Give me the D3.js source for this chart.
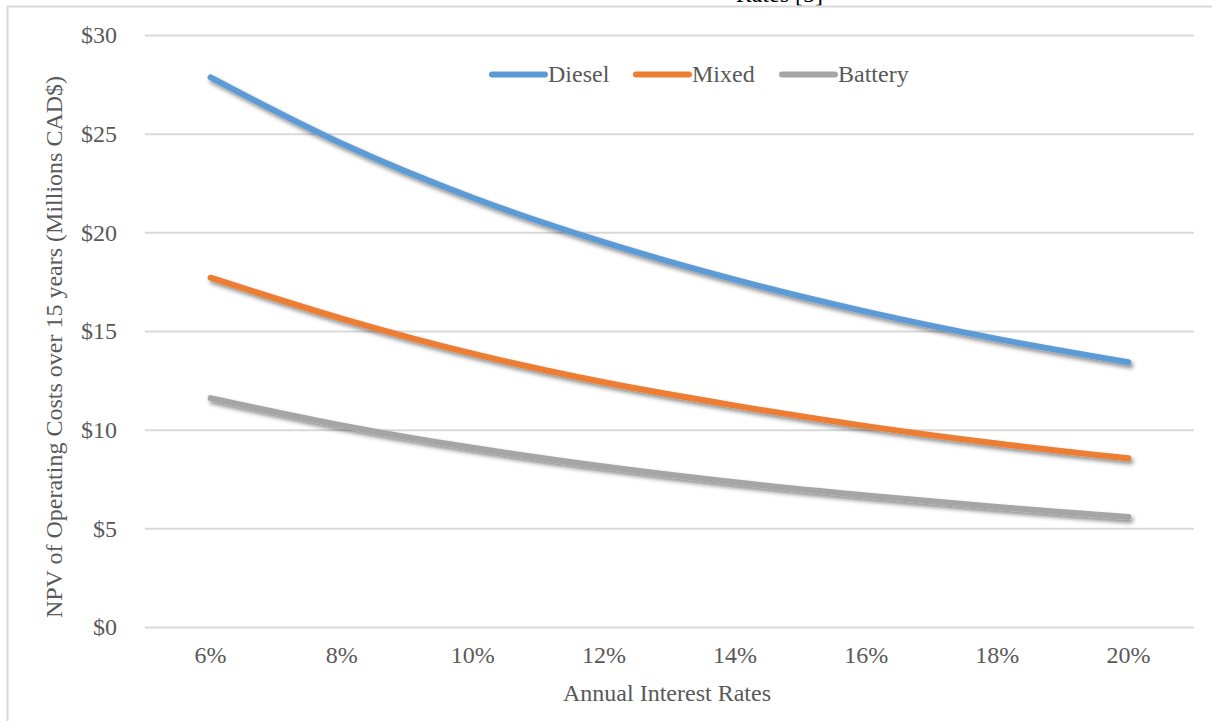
<!DOCTYPE html>
<html>
<head>
<meta charset="utf-8">
<script src="https://cdn.jsdelivr.net/npm/d3@7"></script>
<style>
  html, body { margin: 0; padding: 0; background: #fff; }
  svg { display: block; }
  text { font-family: "Liberation Serif", "Times New Roman", serif; fill: #595959; }
</style>
</head>
<body>
<svg id="chart" width="1212" height="721"></svg>
<script>
// Annual interest rates (categories)
const rates = ["6%", "8%", "10%", "12%", "14%", "16%", "18%", "20%"];

// NPV of operating costs over 15 years, millions CAD$
const diesel  = [27.85, 24.5, 21.75, 19.5, 17.6, 15.98, 14.6, 13.42];
const mixed   = [17.7, 15.63, 13.85, 12.4, 11.22, 10.18, 9.3, 8.55];
const battery = [11.6, 10.22, 9.08, 8.13, 7.33, 6.66, 6.08, 5.58];

const yTicks = [0, 5, 10, 15, 20, 25, 30];

const seriesNames  = ["Diesel", "Mixed", "Battery"];
const seriesValues = [diesel, mixed, battery];
const seriesColors = ["#5B9BD5", "#ED7D31", "#A5A5A5"];

const FONT = "'Liberation Serif', 'Times New Roman', serif";
const FS = 24;

const svg = d3.select("#chart");

// tail of the caption line above the chart
svg.append("text")
  .attr("x", 823).attr("y", 2)
  .attr("text-anchor", "end")
  .attr("font-size", FS)
  .style("fill", "#000")
  .text("Rates [5]");

// outer chart frame
svg.append("rect")
  .attr("x", 7.5).attr("y", 6.5)
  .attr("width", 1220).attr("height", 730)
  .attr("fill", "#fff")
  .attr("stroke", "#d9d9d9")
  .attr("stroke-width", 2);

const plot = { left: 145, right: 1194, top: 35, bottom: 627 };

const x = d3.scaleBand().domain(rates).range([plot.left, plot.right]);
const y = d3.scaleLinear().domain([0, 30]).range([plot.bottom, plot.top]);

// drop shadow under the series lines
const defs = svg.append("defs");
const f = defs.append("filter").attr("id", "shadow")
  .attr("x", "-10%").attr("y", "-10%").attr("width", "120%").attr("height", "130%");
f.append("feDropShadow")
  .attr("dx", 2).attr("dy", 3).attr("stdDeviation", 2)
  .attr("flood-color", "#000").attr("flood-opacity", 0.45);

// horizontal gridlines and value labels
const yAxis = d3.axisLeft(y).tickValues(yTicks)
  .tickSize(-(plot.right - plot.left))
  .tickPadding(28)
  .tickFormat(d => "$" + d);

const gy = svg.append("g")
  .attr("transform", `translate(${plot.left},0)`)
  .call(yAxis);
gy.select(".domain").remove();
gy.selectAll(".tick line").attr("stroke", "#d9d9d9").attr("stroke-width", 2);
gy.selectAll(".tick text")
  .attr("font-size", FS)
  .style("font-family", FONT);

// category labels
const xAxis = d3.axisBottom(x).tickSize(0).tickPadding(19);
const gx = svg.append("g")
  .attr("transform", `translate(0,${plot.bottom})`)
  .call(xAxis);
gx.select(".domain").remove();
gx.selectAll(".tick text")
  .attr("font-size", FS)
  .style("font-family", FONT);

// series lines
const line = d3.line()
  .x((d, i) => x(rates[i]) + x.bandwidth() / 2)
  .y(d => y(d))
  .curve(d3.curveCatmullRom.alpha(0.5));

seriesValues.forEach((vals, k) => {
  svg.append("path")
    .datum(vals)
    .attr("d", line)
    .attr("fill", "none")
    .attr("stroke", seriesColors[k])
    .attr("stroke-width", 6)
    .attr("stroke-linecap", "round")
    .attr("stroke-linejoin", "round")
    .attr("filter", "url(#shadow)");
});

// legend
const legendX = [492, 636, 782];
const legend = svg.append("g");
seriesNames.forEach((name, k) => {
  legend.append("line")
    .attr("x1", legendX[k]).attr("x2", legendX[k] + 53)
    .attr("y1", 74.5).attr("y2", 74.5)
    .attr("stroke", seriesColors[k])
    .attr("stroke-width", 6)
    .attr("stroke-linecap", "round");
  legend.append("text")
    .attr("x", legendX[k] + 56).attr("y", 82)
    .attr("font-size", FS)
    .text(name);
});

// axis titles
svg.append("text")
  .attr("x", 667)
  .attr("y", 701)
  .attr("text-anchor", "middle")
  .attr("font-size", FS)
  .text("Annual Interest Rates");

svg.append("text")
  .attr("transform", "translate(62,347) rotate(-90)")
  .attr("text-anchor", "middle")
  .attr("font-size", FS)
  .text("NPV of Operating Costs over 15 years (Millions CAD$)");
</script>
</body>
</html>
